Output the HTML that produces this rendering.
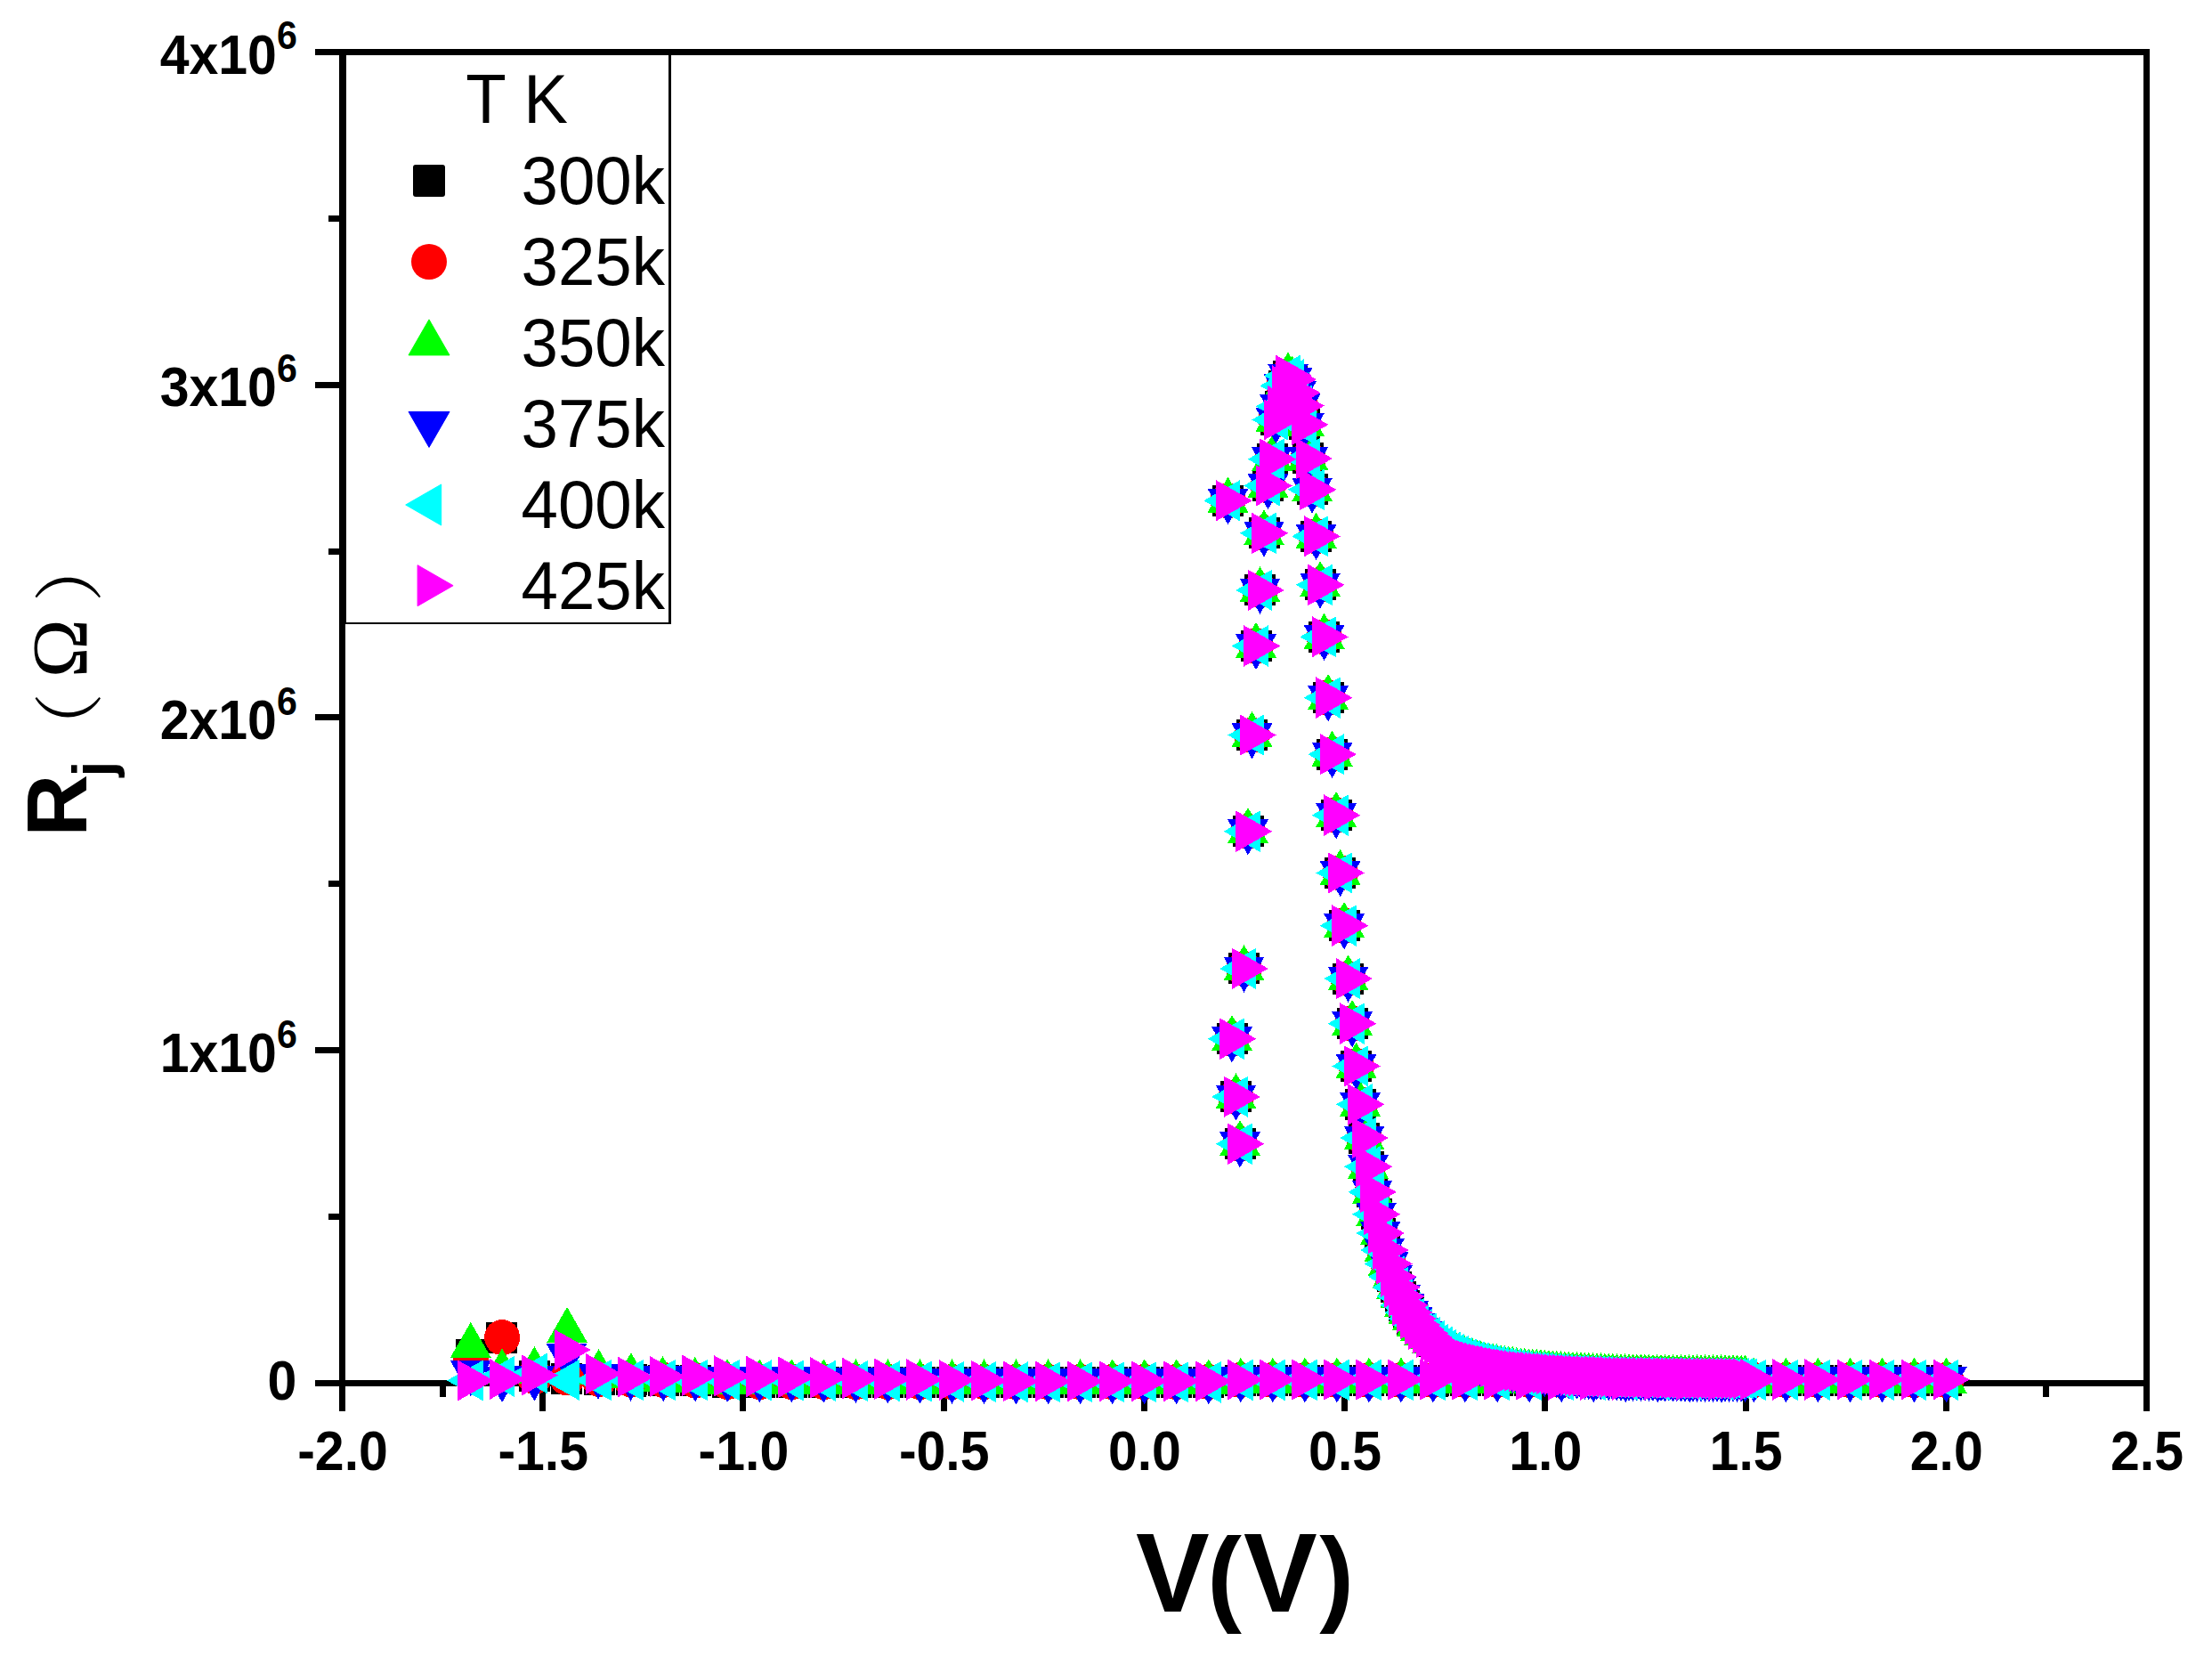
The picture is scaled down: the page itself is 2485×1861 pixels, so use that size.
<!DOCTYPE html>
<html lang="en"><head><meta charset="utf-8"><title>Rj vs V</title>
<style>html,body{margin:0;padding:0;background:#fff;overflow:hidden}svg{display:block}.tk{font-family:'Liberation Sans',Arial,sans-serif;font-weight:bold;font-size:59px;fill:#000}.lg{font-family:'Liberation Sans',Arial,sans-serif;font-size:74.5px;fill:#000}</style></head><body>
<svg width="2485" height="1861" viewBox="0 0 2485 1861">
<rect width="2485" height="1861" fill="#fff"/>
<g fill="#000" shape-rendering="crispEdges">
<rect x="354" y="55" width="2061" height="7"/>
<rect x="354" y="1550" width="2061" height="7"/>
<rect x="381" y="55" width="7" height="1530"/>
<rect x="2408" y="55" width="7" height="1530"/>
<rect x="381" y="1553" width="7" height="32"/>
<rect x="494" y="1553" width="7" height="16"/>
<rect x="606" y="1553" width="7" height="32"/>
<rect x="719" y="1553" width="7" height="16"/>
<rect x="831" y="1553" width="7" height="32"/>
<rect x="944" y="1553" width="7" height="16"/>
<rect x="1057" y="1553" width="7" height="32"/>
<rect x="1169" y="1553" width="7" height="16"/>
<rect x="1282" y="1553" width="7" height="32"/>
<rect x="1394" y="1553" width="7" height="16"/>
<rect x="1507" y="1553" width="7" height="32"/>
<rect x="1620" y="1553" width="7" height="16"/>
<rect x="1732" y="1553" width="7" height="32"/>
<rect x="1845" y="1553" width="7" height="16"/>
<rect x="1958" y="1553" width="7" height="32"/>
<rect x="2070" y="1553" width="7" height="16"/>
<rect x="2183" y="1553" width="7" height="32"/>
<rect x="2295" y="1553" width="7" height="16"/>
<rect x="2408" y="1553" width="7" height="32"/>
<rect x="354" y="1550" width="30" height="7"/>
<rect x="369" y="1363" width="15" height="7"/>
<rect x="354" y="1176" width="30" height="7"/>
<rect x="369" y="989" width="15" height="7"/>
<rect x="354" y="802" width="30" height="7"/>
<rect x="369" y="616" width="15" height="7"/>
<rect x="354" y="429" width="30" height="7"/>
<rect x="369" y="242" width="15" height="7"/>
<rect x="354" y="55" width="30" height="7"/>
</g>
<g class="tk">
<text transform="translate(385 1651.3) scale(1 1.07)" text-anchor="middle">-2.0</text>
<text transform="translate(610.2 1651.3) scale(1 1.07)" text-anchor="middle">-1.5</text>
<text transform="translate(835.4 1651.3) scale(1 1.07)" text-anchor="middle">-1.0</text>
<text transform="translate(1060.7 1651.3) scale(1 1.07)" text-anchor="middle">-0.5</text>
<text transform="translate(1285.9 1651.3) scale(1 1.07)" text-anchor="middle">0.0</text>
<text transform="translate(1511.1 1651.3) scale(1 1.07)" text-anchor="middle">0.5</text>
<text transform="translate(1736.3 1651.3) scale(1 1.07)" text-anchor="middle">1.0</text>
<text transform="translate(1961.6 1651.3) scale(1 1.07)" text-anchor="middle">1.5</text>
<text transform="translate(2186.8 1651.3) scale(1 1.07)" text-anchor="middle">2.0</text>
<text transform="translate(2412 1651.3) scale(1 1.07)" text-anchor="middle">2.5</text>
<text transform="translate(333.8 1204) scale(1 1.07)" text-anchor="end">1x10<tspan font-size="41.2px" dy="-25.6">6</tspan></text>
<text transform="translate(333.8 830.2) scale(1 1.07)" text-anchor="end">2x10<tspan font-size="41.2px" dy="-25.6">6</tspan></text>
<text transform="translate(333.8 456.4) scale(1 1.07)" text-anchor="end">3x10<tspan font-size="41.2px" dy="-25.6">6</tspan></text>
<text transform="translate(333.8 82.7) scale(1 1.07)" text-anchor="end">4x10<tspan font-size="41.2px" dy="-25.6">6</tspan></text>
<text transform="translate(333.3 1571.6) scale(1 1.07)" text-anchor="end">0</text>
</g>
<text transform="translate(0 1809.7) scale(1.025 1.045)" style="font-family:'Liberation Sans',Arial,sans-serif;font-weight:bold;font-size:121px"><tspan x="1244.8">V</tspan><tspan x="1323.2" font-size="113.4px">(</tspan><tspan x="1362.9">V</tspan><tspan x="1446.1" font-size="113.4px">)</tspan></text>
<g transform="translate(97 939.8) rotate(-90)" fill="#000">
<text x="0" y="0" style="font-family:'Liberation Sans',Arial,sans-serif;font-weight:bold;font-size:97px">R<tspan x="67.3" y="29.5" style="font-size:64px">j</tspan><tspan x="83.4" y="9" style="font-family:'Noto Serif CJK SC','Liberation Serif',serif;font-weight:normal;font-size:78.5px">（</tspan><tspan x="178.5" y="0" style="font-family:'Liberation Serif','Times New Roman',serif;font-weight:normal;font-size:89px">Ω</tspan><tspan x="263.5" y="9" style="font-family:'Noto Serif CJK SC','Liberation Serif',serif;font-weight:normal;font-size:78.5px">）</tspan></text>
</g>
<path fill="#000000" shape-rendering="crispEdges" d="M1362 544.8h35v35h-35zM1366.5 1149.2h35v35h-35zM1371 1214.3h35v35h-35zM1375.5 1267.2h35v35h-35zM1380 1070.4h35v35h-35zM1384.5 916.2h35v35h-35zM1389 808.1h35v35h-35zM1393.5 708h35v35h-35zM1398 645.4h35v35h-35zM1402.5 581.4h35v35h-35zM1407 528h35v35h-35zM1411.5 498.2h35v35h-35zM1416 453.9h35v35h-35zM1420.5 438.9h35v35h-35zM1425 415.8h35v35h-35zM1429.5 404.5h35v35h-35zM1434.1 408.7h35v35h-35zM1438.6 423.6h35v35h-35zM1443.1 438.1h35v35h-35zM1447.6 459.4h35v35h-35zM1452.1 497.4h35v35h-35zM1456.6 532.4h35v35h-35zM1461.1 584.8h35v35h-35zM1465.6 639.4h35v35h-35zM1470.1 697.8h35v35h-35zM1474.6 766.1h35v35h-35zM1479.1 829.7h35v35h-35zM1483.6 898.1h35v35h-35zM1488.1 962.9h35v35h-35zM1492.6 1022.1h35v35h-35zM1497.1 1081.6h35v35h-35zM1501.6 1132.1h35v35h-35zM1506.1 1179.9h35v35h-35zM1510.6 1222.9h35v35h-35zM1515.1 1260.5h35v35h-35zM1519.6 1292.9h35v35h-35zM1524.1 1321.3h35v35h-35zM1528.6 1346.3h35v35h-35zM1533.2 1367.5h35v35h-35zM1537.7 1386.5h35v35h-35zM1542.2 1401.9h35v35h-35zM1546.7 1416.4h35v35h-35zM1551.2 1428.3h35v35h-35zM1555.7 1438.5h35v35h-35zM1560.2 1448.5h35v35h-35zM1564.7 1456.5h35v35h-35zM1569.2 1463.5h35v35h-35zM1573.7 1470.3h35v35h-35zM1578.2 1475.5h35v35h-35zM1582.7 1480.1h35v35h-35zM1587.2 1484.5h35v35h-35zM1591.7 1488.7h35v35h-35zM1596.2 1492.3h35v35h-35zM1600.7 1495.4h35v35h-35zM1605.2 1498.5h35v35h-35zM1609.7 1501.3h35v35h-35zM1614.2 1503.5h35v35h-35zM1618.7 1505.5h35v35h-35zM1623.2 1507.5h35v35h-35zM1627.7 1509h35v35h-35zM1632.2 1510.5h35v35h-35zM1636.8 1512.1h35v35h-35zM1641.3 1513.3h35v35h-35zM1645.8 1514.5h35v35h-35zM1650.3 1515.5h35v35h-35zM1654.8 1516.5h35v35h-35zM1659.3 1517.4h35v35h-35zM1663.8 1518.3h35v35h-35zM1668.3 1519.2h35v35h-35zM1672.8 1519.9h35v35h-35zM1677.3 1520.6h35v35h-35zM1681.8 1521.3h35v35h-35zM1686.3 1521.9h35v35h-35zM1690.8 1522.5h35v35h-35zM1695.3 1523.1h35v35h-35zM1699.8 1523.4h35v35h-35zM1704.3 1523.8h35v35h-35zM1708.8 1524.1h35v35h-35zM1713.3 1524.5h35v35h-35zM1717.8 1524.8h35v35h-35zM1722.3 1525.2h35v35h-35zM1726.8 1525.6h35v35h-35zM1731.3 1526h35v35h-35zM1735.9 1526.3h35v35h-35zM1740.4 1526.7h35v35h-35zM1744.9 1526.9h35v35h-35zM1749.4 1527.1h35v35h-35zM1753.9 1527.3h35v35h-35zM1758.4 1527.6h35v35h-35zM1762.9 1527.8h35v35h-35zM1767.4 1528h35v35h-35zM1771.9 1528.2h35v35h-35zM1776.4 1528.3h35v35h-35zM1780.9 1528.5h35v35h-35zM1785.4 1528.7h35v35h-35zM1789.9 1528.9h35v35h-35zM1794.4 1529h35v35h-35zM1798.9 1529.2h35v35h-35zM1803.4 1529.4h35v35h-35zM1807.9 1529.5h35v35h-35zM1812.4 1529.5h35v35h-35zM1816.9 1529.6h35v35h-35zM1821.4 1529.7h35v35h-35zM1825.9 1529.7h35v35h-35zM1830.4 1529.8h35v35h-35zM1834.9 1529.8h35v35h-35zM1839.5 1529.9h35v35h-35zM1844 1530h35v35h-35zM1848.5 1530h35v35h-35zM1853 1530.1h35v35h-35zM1857.5 1530.1h35v35h-35zM1862 1530.2h35v35h-35zM1866.5 1530.2h35v35h-35zM1871 1530.2h35v35h-35zM1875.5 1530.3h35v35h-35zM1880 1530.3h35v35h-35zM1884.5 1530.3h35v35h-35zM1889 1530.4h35v35h-35zM1893.5 1530.4h35v35h-35zM1898 1530.4h35v35h-35zM1902.5 1530.5h35v35h-35zM1907 1530.5h35v35h-35zM1911.5 1530.6h35v35h-35zM1916 1530.6h35v35h-35zM1920.5 1530.6h35v35h-35zM1925 1530.7h35v35h-35zM1929.5 1530.7h35v35h-35zM1934 1530.7h35v35h-35zM1938.6 1530.8h35v35h-35zM1943.1 1530.8h35v35h-35zM511.7 1504.2h35v35h-35zM546 1485.1h35v35h-35zM582.9 1528.3h35v35h-35zM618.9 1530.5h35v35h-35zM655.6 1532h35v35h-35zM691.6 1532.4h35v35h-35zM727.7 1532.8h35v35h-35zM763.7 1533.2h35v35h-35zM799.7 1534.5h35v35h-35zM835.8 1534.5h35v35h-35zM871.8 1534.5h35v35h-35zM907.8 1534.5h35v35h-35zM943.9 1534.5h35v35h-35zM979.9 1534.5h35v35h-35zM1015.9 1534.5h35v35h-35zM1052 1534.5h35v35h-35zM1088 1534.5h35v35h-35zM1124 1534.5h35v35h-35zM1160.1 1534.5h35v35h-35zM1196.1 1534.5h35v35h-35zM1232.2 1534.5h35v35h-35zM1268.2 1534.5h35v35h-35zM1304.2 1534.5h35v35h-35zM1340.3 1534.5h35v35h-35zM1376.3 1532.5h35v35h-35zM1412.3 1532.5h35v35h-35zM1448.4 1532.5h35v35h-35zM1484.4 1532.5h35v35h-35zM1520.4 1532.5h35v35h-35zM1556.5 1532.5h35v35h-35zM1592.5 1532.5h35v35h-35zM1628.5 1532.5h35v35h-35zM1664.6 1532.5h35v35h-35zM1700.6 1532.5h35v35h-35zM1736.7 1532.5h35v35h-35zM1772.7 1532.5h35v35h-35zM1808.7 1532.5h35v35h-35zM1844.8 1532.5h35v35h-35zM1880.8 1532.5h35v35h-35zM1916.8 1532.5h35v35h-35zM1952.9 1532.5h35v35h-35zM1988.9 1532.5h35v35h-35zM2024.9 1532.5h35v35h-35zM2061 1532.5h35v35h-35zM2097 1532.5h35v35h-35zM2133 1532.5h35v35h-35zM2169.1 1532.5h35v35h-35z"/>
<path fill="#ff0000" shape-rendering="crispEdges" d="M1359.5 562.3a20 20 0 1 0 40 0a20 20 0 1 0 -40 0zM1364 1166.7a20 20 0 1 0 40 0a20 20 0 1 0 -40 0zM1368.5 1231.8a20 20 0 1 0 40 0a20 20 0 1 0 -40 0zM1373 1284.7a20 20 0 1 0 40 0a20 20 0 1 0 -40 0zM1377.5 1087.9a20 20 0 1 0 40 0a20 20 0 1 0 -40 0zM1382 933.7a20 20 0 1 0 40 0a20 20 0 1 0 -40 0zM1386.5 825.6a20 20 0 1 0 40 0a20 20 0 1 0 -40 0zM1391 725.5a20 20 0 1 0 40 0a20 20 0 1 0 -40 0zM1395.5 662.9a20 20 0 1 0 40 0a20 20 0 1 0 -40 0zM1400 598.9a20 20 0 1 0 40 0a20 20 0 1 0 -40 0zM1404.5 545.5a20 20 0 1 0 40 0a20 20 0 1 0 -40 0zM1409 515.7a20 20 0 1 0 40 0a20 20 0 1 0 -40 0zM1413.5 471.4a20 20 0 1 0 40 0a20 20 0 1 0 -40 0zM1418 456.4a20 20 0 1 0 40 0a20 20 0 1 0 -40 0zM1422.5 433.3a20 20 0 1 0 40 0a20 20 0 1 0 -40 0zM1427 422a20 20 0 1 0 40 0a20 20 0 1 0 -40 0zM1431.6 426.2a20 20 0 1 0 40 0a20 20 0 1 0 -40 0zM1436.1 441.1a20 20 0 1 0 40 0a20 20 0 1 0 -40 0zM1440.6 455.6a20 20 0 1 0 40 0a20 20 0 1 0 -40 0zM1445.1 476.9a20 20 0 1 0 40 0a20 20 0 1 0 -40 0zM1449.6 514.9a20 20 0 1 0 40 0a20 20 0 1 0 -40 0zM1454.1 549.9a20 20 0 1 0 40 0a20 20 0 1 0 -40 0zM1458.6 602.3a20 20 0 1 0 40 0a20 20 0 1 0 -40 0zM1463.1 656.9a20 20 0 1 0 40 0a20 20 0 1 0 -40 0zM1467.6 715.3a20 20 0 1 0 40 0a20 20 0 1 0 -40 0zM1472.1 783.6a20 20 0 1 0 40 0a20 20 0 1 0 -40 0zM1476.6 847.2a20 20 0 1 0 40 0a20 20 0 1 0 -40 0zM1481.1 915.6a20 20 0 1 0 40 0a20 20 0 1 0 -40 0zM1485.6 980.4a20 20 0 1 0 40 0a20 20 0 1 0 -40 0zM1490.1 1039.6a20 20 0 1 0 40 0a20 20 0 1 0 -40 0zM1494.6 1099.1a20 20 0 1 0 40 0a20 20 0 1 0 -40 0zM1499.1 1149.6a20 20 0 1 0 40 0a20 20 0 1 0 -40 0zM1503.6 1197.4a20 20 0 1 0 40 0a20 20 0 1 0 -40 0zM1508.1 1240.4a20 20 0 1 0 40 0a20 20 0 1 0 -40 0zM1512.6 1278a20 20 0 1 0 40 0a20 20 0 1 0 -40 0zM1517.1 1310.4a20 20 0 1 0 40 0a20 20 0 1 0 -40 0zM1521.6 1338.8a20 20 0 1 0 40 0a20 20 0 1 0 -40 0zM1526.1 1363.8a20 20 0 1 0 40 0a20 20 0 1 0 -40 0zM1530.7 1385a20 20 0 1 0 40 0a20 20 0 1 0 -40 0zM1535.2 1404a20 20 0 1 0 40 0a20 20 0 1 0 -40 0zM1539.7 1419.4a20 20 0 1 0 40 0a20 20 0 1 0 -40 0zM1544.2 1433.9a20 20 0 1 0 40 0a20 20 0 1 0 -40 0zM1548.7 1445.8a20 20 0 1 0 40 0a20 20 0 1 0 -40 0zM1553.2 1456a20 20 0 1 0 40 0a20 20 0 1 0 -40 0zM1557.7 1466a20 20 0 1 0 40 0a20 20 0 1 0 -40 0zM1562.2 1474a20 20 0 1 0 40 0a20 20 0 1 0 -40 0zM1566.7 1481a20 20 0 1 0 40 0a20 20 0 1 0 -40 0zM1571.2 1487.8a20 20 0 1 0 40 0a20 20 0 1 0 -40 0zM1575.7 1493a20 20 0 1 0 40 0a20 20 0 1 0 -40 0zM1580.2 1497.6a20 20 0 1 0 40 0a20 20 0 1 0 -40 0zM1584.7 1502a20 20 0 1 0 40 0a20 20 0 1 0 -40 0zM1589.2 1506.2a20 20 0 1 0 40 0a20 20 0 1 0 -40 0zM1593.7 1509.8a20 20 0 1 0 40 0a20 20 0 1 0 -40 0zM1598.2 1512.9a20 20 0 1 0 40 0a20 20 0 1 0 -40 0zM1602.7 1516a20 20 0 1 0 40 0a20 20 0 1 0 -40 0zM1607.2 1518.8a20 20 0 1 0 40 0a20 20 0 1 0 -40 0zM1611.7 1521a20 20 0 1 0 40 0a20 20 0 1 0 -40 0zM1616.2 1523a20 20 0 1 0 40 0a20 20 0 1 0 -40 0zM1620.7 1525a20 20 0 1 0 40 0a20 20 0 1 0 -40 0zM1625.2 1526.5a20 20 0 1 0 40 0a20 20 0 1 0 -40 0zM1629.7 1528a20 20 0 1 0 40 0a20 20 0 1 0 -40 0zM1634.3 1529.6a20 20 0 1 0 40 0a20 20 0 1 0 -40 0zM1638.8 1530.8a20 20 0 1 0 40 0a20 20 0 1 0 -40 0zM1643.3 1532a20 20 0 1 0 40 0a20 20 0 1 0 -40 0zM1647.8 1533a20 20 0 1 0 40 0a20 20 0 1 0 -40 0zM1652.3 1534a20 20 0 1 0 40 0a20 20 0 1 0 -40 0zM1656.8 1534.9a20 20 0 1 0 40 0a20 20 0 1 0 -40 0zM1661.3 1535.8a20 20 0 1 0 40 0a20 20 0 1 0 -40 0zM1665.8 1536.7a20 20 0 1 0 40 0a20 20 0 1 0 -40 0zM1670.3 1537.4a20 20 0 1 0 40 0a20 20 0 1 0 -40 0zM1674.8 1538.1a20 20 0 1 0 40 0a20 20 0 1 0 -40 0zM1679.3 1538.8a20 20 0 1 0 40 0a20 20 0 1 0 -40 0zM1683.8 1539.4a20 20 0 1 0 40 0a20 20 0 1 0 -40 0zM1688.3 1540a20 20 0 1 0 40 0a20 20 0 1 0 -40 0zM1692.8 1540.6a20 20 0 1 0 40 0a20 20 0 1 0 -40 0zM1697.3 1540.9a20 20 0 1 0 40 0a20 20 0 1 0 -40 0zM1701.8 1541.3a20 20 0 1 0 40 0a20 20 0 1 0 -40 0zM1706.3 1541.6a20 20 0 1 0 40 0a20 20 0 1 0 -40 0zM1710.8 1542a20 20 0 1 0 40 0a20 20 0 1 0 -40 0zM1715.3 1542.3a20 20 0 1 0 40 0a20 20 0 1 0 -40 0zM1719.8 1542.7a20 20 0 1 0 40 0a20 20 0 1 0 -40 0zM1724.3 1543.1a20 20 0 1 0 40 0a20 20 0 1 0 -40 0zM1728.8 1543.5a20 20 0 1 0 40 0a20 20 0 1 0 -40 0zM1733.4 1543.8a20 20 0 1 0 40 0a20 20 0 1 0 -40 0zM1737.9 1544.2a20 20 0 1 0 40 0a20 20 0 1 0 -40 0zM1742.4 1544.4a20 20 0 1 0 40 0a20 20 0 1 0 -40 0zM1746.9 1544.6a20 20 0 1 0 40 0a20 20 0 1 0 -40 0zM1751.4 1544.8a20 20 0 1 0 40 0a20 20 0 1 0 -40 0zM1755.9 1545.1a20 20 0 1 0 40 0a20 20 0 1 0 -40 0zM1760.4 1545.3a20 20 0 1 0 40 0a20 20 0 1 0 -40 0zM1764.9 1545.5a20 20 0 1 0 40 0a20 20 0 1 0 -40 0zM1769.4 1545.7a20 20 0 1 0 40 0a20 20 0 1 0 -40 0zM1773.9 1545.8a20 20 0 1 0 40 0a20 20 0 1 0 -40 0zM1778.4 1546a20 20 0 1 0 40 0a20 20 0 1 0 -40 0zM1782.9 1546.2a20 20 0 1 0 40 0a20 20 0 1 0 -40 0zM1787.4 1546.4a20 20 0 1 0 40 0a20 20 0 1 0 -40 0zM1791.9 1546.5a20 20 0 1 0 40 0a20 20 0 1 0 -40 0zM1796.4 1546.7a20 20 0 1 0 40 0a20 20 0 1 0 -40 0zM1800.9 1546.9a20 20 0 1 0 40 0a20 20 0 1 0 -40 0zM1805.4 1547a20 20 0 1 0 40 0a20 20 0 1 0 -40 0zM1809.9 1547a20 20 0 1 0 40 0a20 20 0 1 0 -40 0zM1814.4 1547.1a20 20 0 1 0 40 0a20 20 0 1 0 -40 0zM1818.9 1547.2a20 20 0 1 0 40 0a20 20 0 1 0 -40 0zM1823.4 1547.2a20 20 0 1 0 40 0a20 20 0 1 0 -40 0zM1827.9 1547.3a20 20 0 1 0 40 0a20 20 0 1 0 -40 0zM1832.4 1547.3a20 20 0 1 0 40 0a20 20 0 1 0 -40 0zM1837 1547.4a20 20 0 1 0 40 0a20 20 0 1 0 -40 0zM1841.5 1547.5a20 20 0 1 0 40 0a20 20 0 1 0 -40 0zM1846 1547.5a20 20 0 1 0 40 0a20 20 0 1 0 -40 0zM1850.5 1547.6a20 20 0 1 0 40 0a20 20 0 1 0 -40 0zM1855 1547.6a20 20 0 1 0 40 0a20 20 0 1 0 -40 0zM1859.5 1547.7a20 20 0 1 0 40 0a20 20 0 1 0 -40 0zM1864 1547.7a20 20 0 1 0 40 0a20 20 0 1 0 -40 0zM1868.5 1547.7a20 20 0 1 0 40 0a20 20 0 1 0 -40 0zM1873 1547.8a20 20 0 1 0 40 0a20 20 0 1 0 -40 0zM1877.5 1547.8a20 20 0 1 0 40 0a20 20 0 1 0 -40 0zM1882 1547.8a20 20 0 1 0 40 0a20 20 0 1 0 -40 0zM1886.5 1547.9a20 20 0 1 0 40 0a20 20 0 1 0 -40 0zM1891 1547.9a20 20 0 1 0 40 0a20 20 0 1 0 -40 0zM1895.5 1547.9a20 20 0 1 0 40 0a20 20 0 1 0 -40 0zM1900 1548a20 20 0 1 0 40 0a20 20 0 1 0 -40 0zM1904.5 1548a20 20 0 1 0 40 0a20 20 0 1 0 -40 0zM1909 1548.1a20 20 0 1 0 40 0a20 20 0 1 0 -40 0zM1913.5 1548.1a20 20 0 1 0 40 0a20 20 0 1 0 -40 0zM1918 1548.1a20 20 0 1 0 40 0a20 20 0 1 0 -40 0zM1922.5 1548.2a20 20 0 1 0 40 0a20 20 0 1 0 -40 0zM1927 1548.2a20 20 0 1 0 40 0a20 20 0 1 0 -40 0zM1931.5 1548.2a20 20 0 1 0 40 0a20 20 0 1 0 -40 0zM1936.1 1548.3a20 20 0 1 0 40 0a20 20 0 1 0 -40 0zM1940.6 1548.3a20 20 0 1 0 40 0a20 20 0 1 0 -40 0zM508.8 1526a20 20 0 1 0 40 0a20 20 0 1 0 -40 0zM544.1 1502.1a20 20 0 1 0 40 0a20 20 0 1 0 -40 0zM580.4 1546a20 20 0 1 0 40 0a20 20 0 1 0 -40 0zM617.3 1547.5a20 20 0 1 0 40 0a20 20 0 1 0 -40 0zM653.1 1549a20 20 0 1 0 40 0a20 20 0 1 0 -40 0zM689.1 1549.5a20 20 0 1 0 40 0a20 20 0 1 0 -40 0zM725.2 1550a20 20 0 1 0 40 0a20 20 0 1 0 -40 0zM761.2 1550.5a20 20 0 1 0 40 0a20 20 0 1 0 -40 0zM797.2 1552a20 20 0 1 0 40 0a20 20 0 1 0 -40 0zM833.3 1552a20 20 0 1 0 40 0a20 20 0 1 0 -40 0zM869.3 1552a20 20 0 1 0 40 0a20 20 0 1 0 -40 0zM905.3 1552a20 20 0 1 0 40 0a20 20 0 1 0 -40 0zM941.4 1552a20 20 0 1 0 40 0a20 20 0 1 0 -40 0zM977.4 1552a20 20 0 1 0 40 0a20 20 0 1 0 -40 0zM1013.4 1552a20 20 0 1 0 40 0a20 20 0 1 0 -40 0zM1049.5 1552a20 20 0 1 0 40 0a20 20 0 1 0 -40 0zM1085.5 1552a20 20 0 1 0 40 0a20 20 0 1 0 -40 0zM1121.5 1552a20 20 0 1 0 40 0a20 20 0 1 0 -40 0zM1157.6 1552a20 20 0 1 0 40 0a20 20 0 1 0 -40 0zM1193.6 1552a20 20 0 1 0 40 0a20 20 0 1 0 -40 0zM1229.7 1552a20 20 0 1 0 40 0a20 20 0 1 0 -40 0zM1265.7 1552a20 20 0 1 0 40 0a20 20 0 1 0 -40 0zM1301.7 1552a20 20 0 1 0 40 0a20 20 0 1 0 -40 0zM1337.8 1552a20 20 0 1 0 40 0a20 20 0 1 0 -40 0zM1373.8 1550a20 20 0 1 0 40 0a20 20 0 1 0 -40 0zM1409.8 1550a20 20 0 1 0 40 0a20 20 0 1 0 -40 0zM1445.9 1550a20 20 0 1 0 40 0a20 20 0 1 0 -40 0zM1481.9 1550a20 20 0 1 0 40 0a20 20 0 1 0 -40 0zM1517.9 1550a20 20 0 1 0 40 0a20 20 0 1 0 -40 0zM1554 1550a20 20 0 1 0 40 0a20 20 0 1 0 -40 0zM1590 1550a20 20 0 1 0 40 0a20 20 0 1 0 -40 0zM1626 1550a20 20 0 1 0 40 0a20 20 0 1 0 -40 0zM1662.1 1550a20 20 0 1 0 40 0a20 20 0 1 0 -40 0zM1698.1 1550a20 20 0 1 0 40 0a20 20 0 1 0 -40 0zM1734.2 1550a20 20 0 1 0 40 0a20 20 0 1 0 -40 0zM1770.2 1550a20 20 0 1 0 40 0a20 20 0 1 0 -40 0zM1806.2 1550a20 20 0 1 0 40 0a20 20 0 1 0 -40 0zM1842.3 1550a20 20 0 1 0 40 0a20 20 0 1 0 -40 0zM1878.3 1550a20 20 0 1 0 40 0a20 20 0 1 0 -40 0zM1914.3 1550a20 20 0 1 0 40 0a20 20 0 1 0 -40 0zM1950.4 1550a20 20 0 1 0 40 0a20 20 0 1 0 -40 0zM1986.4 1550a20 20 0 1 0 40 0a20 20 0 1 0 -40 0zM2022.4 1550a20 20 0 1 0 40 0a20 20 0 1 0 -40 0zM2058.5 1550a20 20 0 1 0 40 0a20 20 0 1 0 -40 0zM2094.5 1550a20 20 0 1 0 40 0a20 20 0 1 0 -40 0zM2130.5 1550a20 20 0 1 0 40 0a20 20 0 1 0 -40 0zM2166.6 1550a20 20 0 1 0 40 0a20 20 0 1 0 -40 0z"/>
<path fill="#00ff00" shape-rendering="crispEdges" d="M1379.5 535.6l23 40h-46zM1384 1140l23 40h-46zM1388.5 1205.1l23 40h-46zM1393 1258l23 40h-46zM1397.5 1061.2l23 40h-46zM1402 907l23 40h-46zM1406.5 798.9l23 40h-46zM1411 698.8l23 40h-46zM1415.5 636.2l23 40h-46zM1420 572.2l23 40h-46zM1424.5 518.8l23 40h-46zM1429 489l23 40h-46zM1433.5 444.7l23 40h-46zM1438 429.7l23 40h-46zM1442.5 406.6l23 40h-46zM1447 395.3l23 40h-46zM1451.6 399.5l23 40h-46zM1456.1 414.4l23 40h-46zM1460.6 428.9l23 40h-46zM1465.1 450.2l23 40h-46zM1469.6 488.2l23 40h-46zM1474.1 523.2l23 40h-46zM1478.6 575.6l23 40h-46zM1483.1 630.2l23 40h-46zM1487.6 688.6l23 40h-46zM1492.1 756.9l23 40h-46zM1496.6 820.5l23 40h-46zM1501.1 888.9l23 40h-46zM1505.6 953.7l23 40h-46zM1510.1 1012.9l23 40h-46zM1514.6 1072.4l23 40h-46zM1519.1 1122.9l23 40h-46zM1523.6 1170.7l23 40h-46zM1528.1 1213.7l23 40h-46zM1532.6 1251.3l23 40h-46zM1537.1 1283.7l23 40h-46zM1541.6 1312.1l23 40h-46zM1546.1 1337.1l23 40h-46zM1550.7 1358.3l23 40h-46zM1555.2 1377.3l23 40h-46zM1559.7 1392.7l23 40h-46zM1564.2 1407.2l23 40h-46zM1568.7 1419.1l23 40h-46zM1573.2 1429.3l23 40h-46zM1577.7 1439.3l23 40h-46zM1582.2 1447.3l23 40h-46zM1586.7 1454.3l23 40h-46zM1591.2 1461.1l23 40h-46zM1595.7 1466.3l23 40h-46zM1600.2 1470.9l23 40h-46zM1604.7 1475.3l23 40h-46zM1609.2 1479.5l23 40h-46zM1613.7 1483.1l23 40h-46zM1618.2 1486.2l23 40h-46zM1622.7 1489.3l23 40h-46zM1627.2 1492.1l23 40h-46zM1631.7 1494.3l23 40h-46zM1636.2 1496.3l23 40h-46zM1640.7 1498.3l23 40h-46zM1645.2 1499.8l23 40h-46zM1649.7 1501.3l23 40h-46zM1654.3 1502.9l23 40h-46zM1658.8 1504.1l23 40h-46zM1663.3 1505.3l23 40h-46zM1667.8 1506.3l23 40h-46zM1672.3 1507.3l23 40h-46zM1676.8 1508.2l23 40h-46zM1681.3 1509.1l23 40h-46zM1685.8 1510l23 40h-46zM1690.3 1510.7l23 40h-46zM1694.8 1511.4l23 40h-46zM1699.3 1512.1l23 40h-46zM1703.8 1512.7l23 40h-46zM1708.3 1513.3l23 40h-46zM1712.8 1513.9l23 40h-46zM1717.3 1514.2l23 40h-46zM1721.8 1514.6l23 40h-46zM1726.3 1514.9l23 40h-46zM1730.8 1515.2l23 40h-46zM1735.3 1515.6l23 40h-46zM1739.8 1516l23 40h-46zM1744.3 1516.4l23 40h-46zM1748.8 1516.8l23 40h-46zM1753.4 1517.1l23 40h-46zM1757.9 1517.5l23 40h-46zM1762.4 1517.7l23 40h-46zM1766.9 1517.9l23 40h-46zM1771.4 1518.1l23 40h-46zM1775.9 1518.4l23 40h-46zM1780.4 1518.6l23 40h-46zM1784.9 1518.8l23 40h-46zM1789.4 1519l23 40h-46zM1793.9 1519.1l23 40h-46zM1798.4 1519.3l23 40h-46zM1802.9 1519.5l23 40h-46zM1807.4 1519.7l23 40h-46zM1811.9 1519.8l23 40h-46zM1816.4 1520l23 40h-46zM1820.9 1520.2l23 40h-46zM1825.4 1520.3l23 40h-46zM1829.9 1520.3l23 40h-46zM1834.4 1520.4l23 40h-46zM1838.9 1520.5l23 40h-46zM1843.4 1520.5l23 40h-46zM1847.9 1520.6l23 40h-46zM1852.4 1520.6l23 40h-46zM1857 1520.7l23 40h-46zM1861.5 1520.8l23 40h-46zM1866 1520.8l23 40h-46zM1870.5 1520.9l23 40h-46zM1875 1520.9l23 40h-46zM1879.5 1521l23 40h-46zM1884 1521l23 40h-46zM1888.5 1521l23 40h-46zM1893 1521.1l23 40h-46zM1897.5 1521.1l23 40h-46zM1902 1521.1l23 40h-46zM1906.5 1521.2l23 40h-46zM1911 1521.2l23 40h-46zM1915.5 1521.2l23 40h-46zM1920 1521.3l23 40h-46zM1924.5 1521.3l23 40h-46zM1929 1521.4l23 40h-46zM1933.5 1521.4l23 40h-46zM1938 1521.4l23 40h-46zM1942.5 1521.5l23 40h-46zM1947 1521.5l23 40h-46zM1951.5 1521.5l23 40h-46zM1956.1 1521.6l23 40h-46zM1960.6 1521.6l23 40h-46zM528.8 1484.9l23 40h-46zM564.1 1514.3l23 40h-46zM600.4 1512.2l23 40h-46zM637.1 1468l23 40h-46zM672.6 1515l23 40h-46zM708.9 1519.1l23 40h-46zM744.5 1523l23 40h-46zM780.8 1523.9l23 40h-46zM817.2 1526.3l23 40h-46zM853.3 1526.3l23 40h-46zM889.3 1526.3l23 40h-46zM925.3 1526.3l23 40h-46zM961.4 1526.3l23 40h-46zM997.4 1526.3l23 40h-46zM1033.4 1526.3l23 40h-46zM1069.5 1526.3l23 40h-46zM1105.5 1526.3l23 40h-46zM1141.5 1526.3l23 40h-46zM1177.6 1526.3l23 40h-46zM1213.6 1526.3l23 40h-46zM1249.7 1526.3l23 40h-46zM1285.7 1526.3l23 40h-46zM1321.7 1526.3l23 40h-46zM1357.8 1526.3l23 40h-46zM1393.8 1524.6l23 40h-46zM1429.8 1524.6l23 40h-46zM1465.9 1524.6l23 40h-46zM1501.9 1524.6l23 40h-46zM1537.9 1524.6l23 40h-46zM1574 1524.6l23 40h-46zM1610 1524.6l23 40h-46zM1646 1524.6l23 40h-46zM1682.1 1524.6l23 40h-46zM1718.1 1524.6l23 40h-46zM1754.2 1524.6l23 40h-46zM1790.2 1524.6l23 40h-46zM1826.2 1524.6l23 40h-46zM1862.3 1524.6l23 40h-46zM1898.3 1524.6l23 40h-46zM1934.3 1524.6l23 40h-46zM1970.4 1524.6l23 40h-46zM2006.4 1524.6l23 40h-46zM2042.4 1524.6l23 40h-46zM2078.5 1524.6l23 40h-46zM2114.5 1524.6l23 40h-46zM2150.5 1524.6l23 40h-46zM2186.6 1524.6l23 40h-46z"/>
<path fill="#0000ff" shape-rendering="crispEdges" d="M1379.5 589l23 -40h-46zM1384 1193.4l23 -40h-46zM1388.5 1258.5l23 -40h-46zM1393 1311.4l23 -40h-46zM1397.5 1114.6l23 -40h-46zM1402 960.4l23 -40h-46zM1406.5 852.3l23 -40h-46zM1411 752.2l23 -40h-46zM1415.5 689.6l23 -40h-46zM1420 625.6l23 -40h-46zM1424.5 572.2l23 -40h-46zM1429 542.4l23 -40h-46zM1433.5 498.1l23 -40h-46zM1438 483.1l23 -40h-46zM1442.5 460l23 -40h-46zM1447 448.7l23 -40h-46zM1451.6 452.9l23 -40h-46zM1456.1 467.8l23 -40h-46zM1460.6 482.3l23 -40h-46zM1465.1 503.6l23 -40h-46zM1469.6 541.6l23 -40h-46zM1474.1 576.6l23 -40h-46zM1478.6 629l23 -40h-46zM1483.1 683.6l23 -40h-46zM1487.6 742l23 -40h-46zM1492.1 810.3l23 -40h-46zM1496.6 873.9l23 -40h-46zM1501.1 942.3l23 -40h-46zM1505.6 1007.1l23 -40h-46zM1510.1 1066.3l23 -40h-46zM1514.6 1125.8l23 -40h-46zM1519.1 1176.3l23 -40h-46zM1523.6 1224.1l23 -40h-46zM1528.1 1267.1l23 -40h-46zM1532.6 1304.7l23 -40h-46zM1537.1 1337.1l23 -40h-46zM1541.6 1365.5l23 -40h-46zM1546.1 1390.5l23 -40h-46zM1550.7 1411.7l23 -40h-46zM1555.2 1430.7l23 -40h-46zM1559.7 1446.1l23 -40h-46zM1564.2 1460.6l23 -40h-46zM1568.7 1472.5l23 -40h-46zM1573.2 1482.7l23 -40h-46zM1577.7 1492.7l23 -40h-46zM1582.2 1500.7l23 -40h-46zM1586.7 1507.7l23 -40h-46zM1591.2 1514.5l23 -40h-46zM1595.7 1519.7l23 -40h-46zM1600.2 1524.3l23 -40h-46zM1604.7 1528.7l23 -40h-46zM1609.2 1532.9l23 -40h-46zM1613.7 1536.5l23 -40h-46zM1618.2 1539.6l23 -40h-46zM1622.7 1542.7l23 -40h-46zM1627.2 1545.5l23 -40h-46zM1631.7 1547.7l23 -40h-46zM1636.2 1549.7l23 -40h-46zM1640.7 1551.7l23 -40h-46zM1645.2 1553.2l23 -40h-46zM1649.7 1554.8l23 -40h-46zM1654.3 1556.3l23 -40h-46zM1658.8 1557.5l23 -40h-46zM1663.3 1558.7l23 -40h-46zM1667.8 1559.7l23 -40h-46zM1672.3 1560.7l23 -40h-46zM1676.8 1561.6l23 -40h-46zM1681.3 1562.5l23 -40h-46zM1685.8 1563.4l23 -40h-46zM1690.3 1564.1l23 -40h-46zM1694.8 1564.8l23 -40h-46zM1699.3 1565.5l23 -40h-46zM1703.8 1566.1l23 -40h-46zM1708.3 1566.7l23 -40h-46zM1712.8 1567.3l23 -40h-46zM1717.3 1567.6l23 -40h-46zM1721.8 1568l23 -40h-46zM1726.3 1568.3l23 -40h-46zM1730.8 1568.7l23 -40h-46zM1735.3 1569l23 -40h-46zM1739.8 1569.4l23 -40h-46zM1744.3 1569.8l23 -40h-46zM1748.8 1570.2l23 -40h-46zM1753.4 1570.5l23 -40h-46zM1757.9 1570.9l23 -40h-46zM1762.4 1571.1l23 -40h-46zM1766.9 1571.3l23 -40h-46zM1771.4 1571.5l23 -40h-46zM1775.9 1571.8l23 -40h-46zM1780.4 1572l23 -40h-46zM1784.9 1572.2l23 -40h-46zM1789.4 1572.4l23 -40h-46zM1793.9 1572.5l23 -40h-46zM1798.4 1572.7l23 -40h-46zM1802.9 1572.9l23 -40h-46zM1807.4 1573.1l23 -40h-46zM1811.9 1573.2l23 -40h-46zM1816.4 1573.4l23 -40h-46zM1820.9 1573.6l23 -40h-46zM1825.4 1573.7l23 -40h-46zM1829.9 1573.7l23 -40h-46zM1834.4 1573.8l23 -40h-46zM1838.9 1573.9l23 -40h-46zM1843.4 1573.9l23 -40h-46zM1847.9 1574l23 -40h-46zM1852.4 1574l23 -40h-46zM1857 1574.1l23 -40h-46zM1861.5 1574.2l23 -40h-46zM1866 1574.2l23 -40h-46zM1870.5 1574.3l23 -40h-46zM1875 1574.3l23 -40h-46zM1879.5 1574.4l23 -40h-46zM1884 1574.4l23 -40h-46zM1888.5 1574.4l23 -40h-46zM1893 1574.5l23 -40h-46zM1897.5 1574.5l23 -40h-46zM1902 1574.5l23 -40h-46zM1906.5 1574.6l23 -40h-46zM1911 1574.6l23 -40h-46zM1915.5 1574.6l23 -40h-46zM1920 1574.7l23 -40h-46zM1924.5 1574.7l23 -40h-46zM1929 1574.8l23 -40h-46zM1933.5 1574.8l23 -40h-46zM1938 1574.8l23 -40h-46zM1942.5 1574.9l23 -40h-46zM1947 1574.9l23 -40h-46zM1951.5 1574.9l23 -40h-46zM1956.1 1575l23 -40h-46zM1960.6 1575l23 -40h-46zM528.8 1568.2l23 -40h-46zM564.1 1575l23 -40h-46zM600.4 1573.6l23 -40h-46zM636.5 1548.9l23 -40h-46zM671.9 1571.6l23 -40h-46zM708.5 1573.6l23 -40h-46zM745.2 1574.2l23 -40h-46zM781.2 1574.5l23 -40h-46zM817.2 1574.8l23 -40h-46zM853.3 1575.1l23 -40h-46zM889.3 1575.4l23 -40h-46zM925.3 1575.7l23 -40h-46zM961.4 1576l23 -40h-46zM997.4 1576.3l23 -40h-46zM1033.4 1576.6l23 -40h-46zM1069.5 1576.9l23 -40h-46zM1105.5 1577.2l23 -40h-46zM1141.5 1577.5l23 -40h-46zM1177.6 1577.4l23 -40h-46zM1213.6 1577.4l23 -40h-46zM1249.7 1577.4l23 -40h-46zM1285.7 1577.4l23 -40h-46zM1321.7 1577.4l23 -40h-46zM1357.8 1577.4l23 -40h-46zM1393.8 1575.4l23 -40h-46zM1429.8 1575.4l23 -40h-46zM1465.9 1575.4l23 -40h-46zM1501.9 1575.4l23 -40h-46zM1537.9 1575.4l23 -40h-46zM1574 1575.4l23 -40h-46zM1610 1575.4l23 -40h-46zM1646 1575.4l23 -40h-46zM1682.1 1575.4l23 -40h-46zM1718.1 1575.4l23 -40h-46zM1754.2 1575.4l23 -40h-46zM1790.2 1575.4l23 -40h-46zM1826.2 1575.4l23 -40h-46zM1862.3 1575.4l23 -40h-46zM1898.3 1575.4l23 -40h-46zM1934.3 1575.4l23 -40h-46zM1970.4 1575.4l23 -40h-46zM2006.4 1575.4l23 -40h-46zM2042.4 1575.4l23 -40h-46zM2078.5 1575.4l23 -40h-46zM2114.5 1575.4l23 -40h-46zM2150.5 1575.4l23 -40h-46zM2186.6 1575.4l23 -40h-46z"/>
<path fill="#00ffff" shape-rendering="crispEdges" d="M1352.2 562.3l41 -23.2v46.4zM1356.7 1166.7l41 -23.2v46.4zM1361.2 1231.8l41 -23.2v46.4zM1365.7 1284.7l41 -23.2v46.4zM1370.2 1087.9l41 -23.2v46.4zM1374.7 933.7l41 -23.2v46.4zM1379.2 825.6l41 -23.2v46.4zM1383.7 725.5l41 -23.2v46.4zM1388.2 662.9l41 -23.2v46.4zM1392.7 598.9l41 -23.2v46.4zM1397.2 545.5l41 -23.2v46.4zM1401.7 515.7l41 -23.2v46.4zM1406.2 471.4l41 -23.2v46.4zM1410.7 456.4l41 -23.2v46.4zM1415.2 433.3l41 -23.2v46.4zM1419.7 422l41 -23.2v46.4zM1424.3 426.2l41 -23.2v46.4zM1428.8 441.1l41 -23.2v46.4zM1433.3 455.6l41 -23.2v46.4zM1437.8 476.9l41 -23.2v46.4zM1442.3 514.9l41 -23.2v46.4zM1446.8 549.9l41 -23.2v46.4zM1451.3 602.3l41 -23.2v46.4zM1455.8 656.9l41 -23.2v46.4zM1460.3 715.3l41 -23.2v46.4zM1464.8 783.6l41 -23.2v46.4zM1469.3 847.2l41 -23.2v46.4zM1473.8 915.6l41 -23.2v46.4zM1478.3 980.4l41 -23.2v46.4zM1482.8 1039.6l41 -23.2v46.4zM1487.3 1099.1l41 -23.2v46.4zM1491.8 1149.6l41 -23.2v46.4zM1496.3 1197.4l41 -23.2v46.4zM1500.8 1240.4l41 -23.2v46.4zM1505.3 1278l41 -23.2v46.4zM1509.8 1310.4l41 -23.2v46.4zM1514.3 1338.8l41 -23.2v46.4zM1518.8 1363.8l41 -23.2v46.4zM1523.4 1385l41 -23.2v46.4zM1527.9 1404l41 -23.2v46.4zM1532.4 1419.4l41 -23.2v46.4zM1536.9 1433.9l41 -23.2v46.4zM1541.4 1445.8l41 -23.2v46.4zM1545.9 1456l41 -23.2v46.4zM1550.4 1466l41 -23.2v46.4zM1554.9 1474l41 -23.2v46.4zM1559.4 1481l41 -23.2v46.4zM1563.9 1487.8l41 -23.2v46.4zM1568.4 1493l41 -23.2v46.4zM1572.9 1497.6l41 -23.2v46.4zM1577.4 1502l41 -23.2v46.4zM1581.9 1506.2l41 -23.2v46.4zM1586.4 1509.8l41 -23.2v46.4zM1590.9 1512.9l41 -23.2v46.4zM1595.4 1516l41 -23.2v46.4zM1599.9 1518.8l41 -23.2v46.4zM1604.4 1521l41 -23.2v46.4zM1608.9 1523l41 -23.2v46.4zM1613.4 1525l41 -23.2v46.4zM1617.9 1526.5l41 -23.2v46.4zM1622.4 1528l41 -23.2v46.4zM1627 1529.6l41 -23.2v46.4zM1631.5 1530.8l41 -23.2v46.4zM1636 1532l41 -23.2v46.4zM1640.5 1533l41 -23.2v46.4zM1645 1534l41 -23.2v46.4zM1649.5 1534.9l41 -23.2v46.4zM1654 1535.8l41 -23.2v46.4zM1658.5 1536.7l41 -23.2v46.4zM1663 1537.4l41 -23.2v46.4zM1667.5 1538.1l41 -23.2v46.4zM1672 1538.8l41 -23.2v46.4zM1676.5 1539.4l41 -23.2v46.4zM1681 1540l41 -23.2v46.4zM1685.5 1540.6l41 -23.2v46.4zM1690 1540.9l41 -23.2v46.4zM1694.5 1541.3l41 -23.2v46.4zM1699 1541.6l41 -23.2v46.4zM1703.5 1542l41 -23.2v46.4zM1708 1542.3l41 -23.2v46.4zM1712.5 1542.7l41 -23.2v46.4zM1717 1543.1l41 -23.2v46.4zM1721.5 1543.5l41 -23.2v46.4zM1726.1 1543.8l41 -23.2v46.4zM1730.6 1544.2l41 -23.2v46.4zM1735.1 1544.4l41 -23.2v46.4zM1739.6 1544.6l41 -23.2v46.4zM1744.1 1544.8l41 -23.2v46.4zM1748.6 1545.1l41 -23.2v46.4zM1753.1 1545.3l41 -23.2v46.4zM1757.6 1545.5l41 -23.2v46.4zM1762.1 1545.7l41 -23.2v46.4zM1766.6 1545.8l41 -23.2v46.4zM1771.1 1546l41 -23.2v46.4zM1775.6 1546.2l41 -23.2v46.4zM1780.1 1546.4l41 -23.2v46.4zM1784.6 1546.5l41 -23.2v46.4zM1789.1 1546.7l41 -23.2v46.4zM1793.6 1546.9l41 -23.2v46.4zM1798.1 1547l41 -23.2v46.4zM1802.6 1547l41 -23.2v46.4zM1807.1 1547.1l41 -23.2v46.4zM1811.6 1547.2l41 -23.2v46.4zM1816.1 1547.2l41 -23.2v46.4zM1820.6 1547.3l41 -23.2v46.4zM1825.1 1547.3l41 -23.2v46.4zM1829.7 1547.4l41 -23.2v46.4zM1834.2 1547.5l41 -23.2v46.4zM1838.7 1547.5l41 -23.2v46.4zM1843.2 1547.6l41 -23.2v46.4zM1847.7 1547.6l41 -23.2v46.4zM1852.2 1547.7l41 -23.2v46.4zM1856.7 1547.7l41 -23.2v46.4zM1861.2 1547.7l41 -23.2v46.4zM1865.7 1547.8l41 -23.2v46.4zM1870.2 1547.8l41 -23.2v46.4zM1874.7 1547.8l41 -23.2v46.4zM1879.2 1547.9l41 -23.2v46.4zM1883.7 1547.9l41 -23.2v46.4zM1888.2 1547.9l41 -23.2v46.4zM1892.7 1548l41 -23.2v46.4zM1897.2 1548l41 -23.2v46.4zM1901.7 1548.1l41 -23.2v46.4zM1906.2 1548.1l41 -23.2v46.4zM1910.7 1548.1l41 -23.2v46.4zM1915.2 1548.2l41 -23.2v46.4zM1919.7 1548.2l41 -23.2v46.4zM1924.2 1548.2l41 -23.2v46.4zM1928.8 1548.3l41 -23.2v46.4zM1933.3 1548.3l41 -23.2v46.4zM502.2 1550.5l41 -23.2v46.4zM537.3 1545.9l41 -23.2v46.4zM574.4 1542.4l41 -23.2v46.4zM610.3 1549.9l41 -23.2v46.4zM645.8 1550l41 -23.2v46.4zM681.8 1550l41 -23.2v46.4zM717.9 1550l41 -23.2v46.4zM753.9 1550l41 -23.2v46.4zM789.9 1550l41 -23.2v46.4zM826 1550.3l41 -23.2v46.4zM862 1550.5l41 -23.2v46.4zM898 1550.8l41 -23.2v46.4zM934.1 1551l41 -23.2v46.4zM970.1 1551.3l41 -23.2v46.4zM1006.1 1551.5l41 -23.2v46.4zM1042.2 1551.8l41 -23.2v46.4zM1078.2 1552l41 -23.2v46.4zM1114.2 1552.3l41 -23.2v46.4zM1150.3 1552.3l41 -23.2v46.4zM1186.3 1552.3l41 -23.2v46.4zM1222.4 1552.3l41 -23.2v46.4zM1258.4 1552.3l41 -23.2v46.4zM1294.4 1552.3l41 -23.2v46.4zM1330.5 1552.3l41 -23.2v46.4zM1366.5 1549.9l41 -23.2v46.4zM1402.5 1549.9l41 -23.2v46.4zM1438.6 1549.9l41 -23.2v46.4zM1474.6 1549.9l41 -23.2v46.4zM1510.6 1549.9l41 -23.2v46.4zM1546.7 1549.9l41 -23.2v46.4zM1582.7 1549.9l41 -23.2v46.4zM1618.7 1549.9l41 -23.2v46.4zM1654.8 1549.9l41 -23.2v46.4zM1690.8 1549.9l41 -23.2v46.4zM1726.9 1549.9l41 -23.2v46.4zM1762.9 1549.9l41 -23.2v46.4zM1798.9 1549.9l41 -23.2v46.4zM1835 1549.9l41 -23.2v46.4zM1871 1549.9l41 -23.2v46.4zM1907 1549.9l41 -23.2v46.4zM1943.1 1549.9l41 -23.2v46.4zM1979.1 1549.9l41 -23.2v46.4zM2015.1 1549.9l41 -23.2v46.4zM2051.2 1549.9l41 -23.2v46.4zM2087.2 1549.9l41 -23.2v46.4zM2123.2 1549.9l41 -23.2v46.4zM2159.3 1549.9l41 -23.2v46.4z"/>
<path fill="#ff00ff" shape-rendering="crispEdges" d="M1406.8 562.3l-41 -23.2v46.4zM1411.3 1166.7l-41 -23.2v46.4zM1415.8 1231.8l-41 -23.2v46.4zM1420.3 1284.7l-41 -23.2v46.4zM1424.8 1087.9l-41 -23.2v46.4zM1429.3 933.7l-41 -23.2v46.4zM1433.8 825.6l-41 -23.2v46.4zM1438.3 725.5l-41 -23.2v46.4zM1442.8 662.9l-41 -23.2v46.4zM1447.3 598.9l-41 -23.2v46.4zM1451.8 545.5l-41 -23.2v46.4zM1456.3 515.7l-41 -23.2v46.4zM1460.8 471.4l-41 -23.2v46.4zM1465.3 456.4l-41 -23.2v46.4zM1469.8 433.3l-41 -23.2v46.4zM1474.3 422l-41 -23.2v46.4zM1478.9 426.2l-41 -23.2v46.4zM1483.4 441.1l-41 -23.2v46.4zM1487.9 455.6l-41 -23.2v46.4zM1492.4 476.9l-41 -23.2v46.4zM1496.9 514.9l-41 -23.2v46.4zM1501.4 549.9l-41 -23.2v46.4zM1505.9 602.3l-41 -23.2v46.4zM1510.4 656.9l-41 -23.2v46.4zM1514.9 715.3l-41 -23.2v46.4zM1519.4 783.6l-41 -23.2v46.4zM1523.9 847.2l-41 -23.2v46.4zM1528.4 915.6l-41 -23.2v46.4zM1532.9 980.4l-41 -23.2v46.4zM1537.4 1039.6l-41 -23.2v46.4zM1541.9 1099.1l-41 -23.2v46.4zM1546.4 1149.6l-41 -23.2v46.4zM1550.9 1197.4l-41 -23.2v46.4zM1555.4 1240.4l-41 -23.2v46.4zM1559.9 1278l-41 -23.2v46.4zM1564.4 1310.4l-41 -23.2v46.4zM1568.9 1338.8l-41 -23.2v46.4zM1573.4 1363.8l-41 -23.2v46.4zM1578 1385l-41 -23.2v46.4zM1582.5 1404l-41 -23.2v46.4zM1587 1419.4l-41 -23.2v46.4zM1591.5 1433.9l-41 -23.2v46.4zM1596 1445.8l-41 -23.2v46.4zM1600.5 1456l-41 -23.2v46.4zM1605 1466l-41 -23.2v46.4zM1609.5 1474l-41 -23.2v46.4zM1614 1481l-41 -23.2v46.4zM1618.5 1487.8l-41 -23.2v46.4zM1623 1493l-41 -23.2v46.4zM1627.5 1497.6l-41 -23.2v46.4zM1632 1502l-41 -23.2v46.4zM1636.5 1506.2l-41 -23.2v46.4zM1641 1509.8l-41 -23.2v46.4zM1645.5 1512.9l-41 -23.2v46.4zM1650 1516l-41 -23.2v46.4zM1654.5 1518.8l-41 -23.2v46.4zM1659 1521l-41 -23.2v46.4zM1663.5 1523l-41 -23.2v46.4zM1668 1525l-41 -23.2v46.4zM1672.5 1526.5l-41 -23.2v46.4zM1677 1528l-41 -23.2v46.4zM1681.6 1529.6l-41 -23.2v46.4zM1686.1 1530.8l-41 -23.2v46.4zM1690.6 1532l-41 -23.2v46.4zM1695.1 1533l-41 -23.2v46.4zM1699.6 1534l-41 -23.2v46.4zM1704.1 1534.9l-41 -23.2v46.4zM1708.6 1535.8l-41 -23.2v46.4zM1713.1 1536.7l-41 -23.2v46.4zM1717.6 1537.4l-41 -23.2v46.4zM1722.1 1538.1l-41 -23.2v46.4zM1726.6 1538.8l-41 -23.2v46.4zM1731.1 1539.4l-41 -23.2v46.4zM1735.6 1540l-41 -23.2v46.4zM1740.1 1540.6l-41 -23.2v46.4zM1744.6 1540.9l-41 -23.2v46.4zM1749.1 1541.3l-41 -23.2v46.4zM1753.6 1541.6l-41 -23.2v46.4zM1758.1 1542l-41 -23.2v46.4zM1762.6 1542.3l-41 -23.2v46.4zM1767.1 1542.7l-41 -23.2v46.4zM1771.6 1543.1l-41 -23.2v46.4zM1776.1 1543.5l-41 -23.2v46.4zM1780.7 1543.8l-41 -23.2v46.4zM1785.2 1544.2l-41 -23.2v46.4zM1789.7 1544.4l-41 -23.2v46.4zM1794.2 1544.6l-41 -23.2v46.4zM1798.7 1544.8l-41 -23.2v46.4zM1803.2 1545.1l-41 -23.2v46.4zM1807.7 1545.3l-41 -23.2v46.4zM1812.2 1545.5l-41 -23.2v46.4zM1816.7 1545.7l-41 -23.2v46.4zM1821.2 1545.8l-41 -23.2v46.4zM1825.7 1546l-41 -23.2v46.4zM1830.2 1546.2l-41 -23.2v46.4zM1834.7 1546.4l-41 -23.2v46.4zM1839.2 1546.5l-41 -23.2v46.4zM1843.7 1546.7l-41 -23.2v46.4zM1848.2 1546.9l-41 -23.2v46.4zM1852.7 1547l-41 -23.2v46.4zM1857.2 1547l-41 -23.2v46.4zM1861.7 1547.1l-41 -23.2v46.4zM1866.2 1547.2l-41 -23.2v46.4zM1870.7 1547.2l-41 -23.2v46.4zM1875.2 1547.3l-41 -23.2v46.4zM1879.7 1547.3l-41 -23.2v46.4zM1884.3 1547.4l-41 -23.2v46.4zM1888.8 1547.5l-41 -23.2v46.4zM1893.3 1547.5l-41 -23.2v46.4zM1897.8 1547.6l-41 -23.2v46.4zM1902.3 1547.6l-41 -23.2v46.4zM1906.8 1547.7l-41 -23.2v46.4zM1911.3 1547.7l-41 -23.2v46.4zM1915.8 1547.7l-41 -23.2v46.4zM1920.3 1547.8l-41 -23.2v46.4zM1924.8 1547.8l-41 -23.2v46.4zM1929.3 1547.8l-41 -23.2v46.4zM1933.8 1547.9l-41 -23.2v46.4zM1938.3 1547.9l-41 -23.2v46.4zM1942.8 1547.9l-41 -23.2v46.4zM1947.3 1548l-41 -23.2v46.4zM1951.8 1548l-41 -23.2v46.4zM1956.3 1548.1l-41 -23.2v46.4zM1960.8 1548.1l-41 -23.2v46.4zM1965.3 1548.1l-41 -23.2v46.4zM1969.8 1548.2l-41 -23.2v46.4zM1974.3 1548.2l-41 -23.2v46.4zM1978.8 1548.2l-41 -23.2v46.4zM1983.4 1548.3l-41 -23.2v46.4zM1987.9 1548.3l-41 -23.2v46.4zM554.8 1550.5l-41 -23.2v46.4zM590.6 1549l-41 -23.2v46.4zM626.8 1544.5l-41 -23.2v46.4zM663.7 1516l-41 -23.2v46.4zM698.7 1543l-41 -23.2v46.4zM734.6 1546.5l-41 -23.2v46.4zM770.6 1546l-41 -23.2v46.4zM807.2 1544.7l-41 -23.2v46.4zM843.2 1545.4l-41 -23.2v46.4zM879.3 1546l-41 -23.2v46.4zM915.3 1546.7l-41 -23.2v46.4zM951.3 1547.4l-41 -23.2v46.4zM987.4 1548l-41 -23.2v46.4zM1023.4 1548.7l-41 -23.2v46.4zM1059.4 1549.4l-41 -23.2v46.4zM1095.5 1550.1l-41 -23.2v46.4zM1131.5 1550.7l-41 -23.2v46.4zM1167.5 1551.4l-41 -23.2v46.4zM1203.6 1551.4l-41 -23.2v46.4zM1239.6 1551.4l-41 -23.2v46.4zM1275.7 1551.4l-41 -23.2v46.4zM1311.7 1551.4l-41 -23.2v46.4zM1347.7 1551.4l-41 -23.2v46.4zM1383.8 1551.4l-41 -23.2v46.4zM1419.8 1549.5l-41 -23.2v46.4zM1455.8 1549.5l-41 -23.2v46.4zM1491.9 1549.5l-41 -23.2v46.4zM1527.9 1549.5l-41 -23.2v46.4zM1563.9 1549.5l-41 -23.2v46.4zM1600 1549.5l-41 -23.2v46.4zM1636 1549.5l-41 -23.2v46.4zM1672 1549.5l-41 -23.2v46.4zM1708.1 1549.5l-41 -23.2v46.4zM1744.1 1549.5l-41 -23.2v46.4zM1780.2 1549.5l-41 -23.2v46.4zM1816.2 1549.5l-41 -23.2v46.4zM1852.2 1549.5l-41 -23.2v46.4zM1888.3 1549.5l-41 -23.2v46.4zM1924.3 1549.5l-41 -23.2v46.4zM1960.3 1549.5l-41 -23.2v46.4zM1996.4 1549.5l-41 -23.2v46.4zM2032.4 1549.5l-41 -23.2v46.4zM2068.4 1549.5l-41 -23.2v46.4zM2104.5 1549.5l-41 -23.2v46.4zM2140.5 1549.5l-41 -23.2v46.4zM2176.5 1549.5l-41 -23.2v46.4zM2212.6 1549.5l-41 -23.2v46.4z"/>
<g>
<rect x="388.2" y="59" width="364.5" height="641" fill="#fff" stroke="#000" stroke-width="2.5" shape-rendering="crispEdges"/>
<rect x="381" y="55" width="7" height="700" fill="#000" shape-rendering="crispEdges"/>
<rect x="381" y="55" width="400" height="7" fill="#000" shape-rendering="crispEdges"/>
<text class="lg" transform="translate(523.3 138.2) scale(1 1.04)">T K</text>
<text class="lg" transform="translate(585.5 229.3) scale(1 1.025)">300k</text>
<text class="lg" transform="translate(585.5 320.3) scale(1 1.025)">325k</text>
<text class="lg" transform="translate(585.5 411.3) scale(1 1.025)">350k</text>
<text class="lg" transform="translate(585.5 502.3) scale(1 1.025)">375k</text>
<text class="lg" transform="translate(585.5 593.3) scale(1 1.025)">400k</text>
<text class="lg" transform="translate(585.5 684.3) scale(1 1.025)">425k</text>
<rect x="464" y="185" width="36" height="36" rx="3" fill="#000"/>
<circle cx="482" cy="294" r="20" fill="#f00"/>
<path fill="#0f0" stroke="#0f0" d="M482 358.9l23 40h-46z"/>
<path fill="#00f" stroke="#00f" d="M482 502.4l23 -40h-46z"/>
<path fill="#0ff" stroke="#0ff" d="M455.7 567l40 -23v46z"/>
<path fill="#f0f" stroke="#f0f" d="M509.1 657.7l-40 -23v46z"/>
</g>
</svg></body></html>
